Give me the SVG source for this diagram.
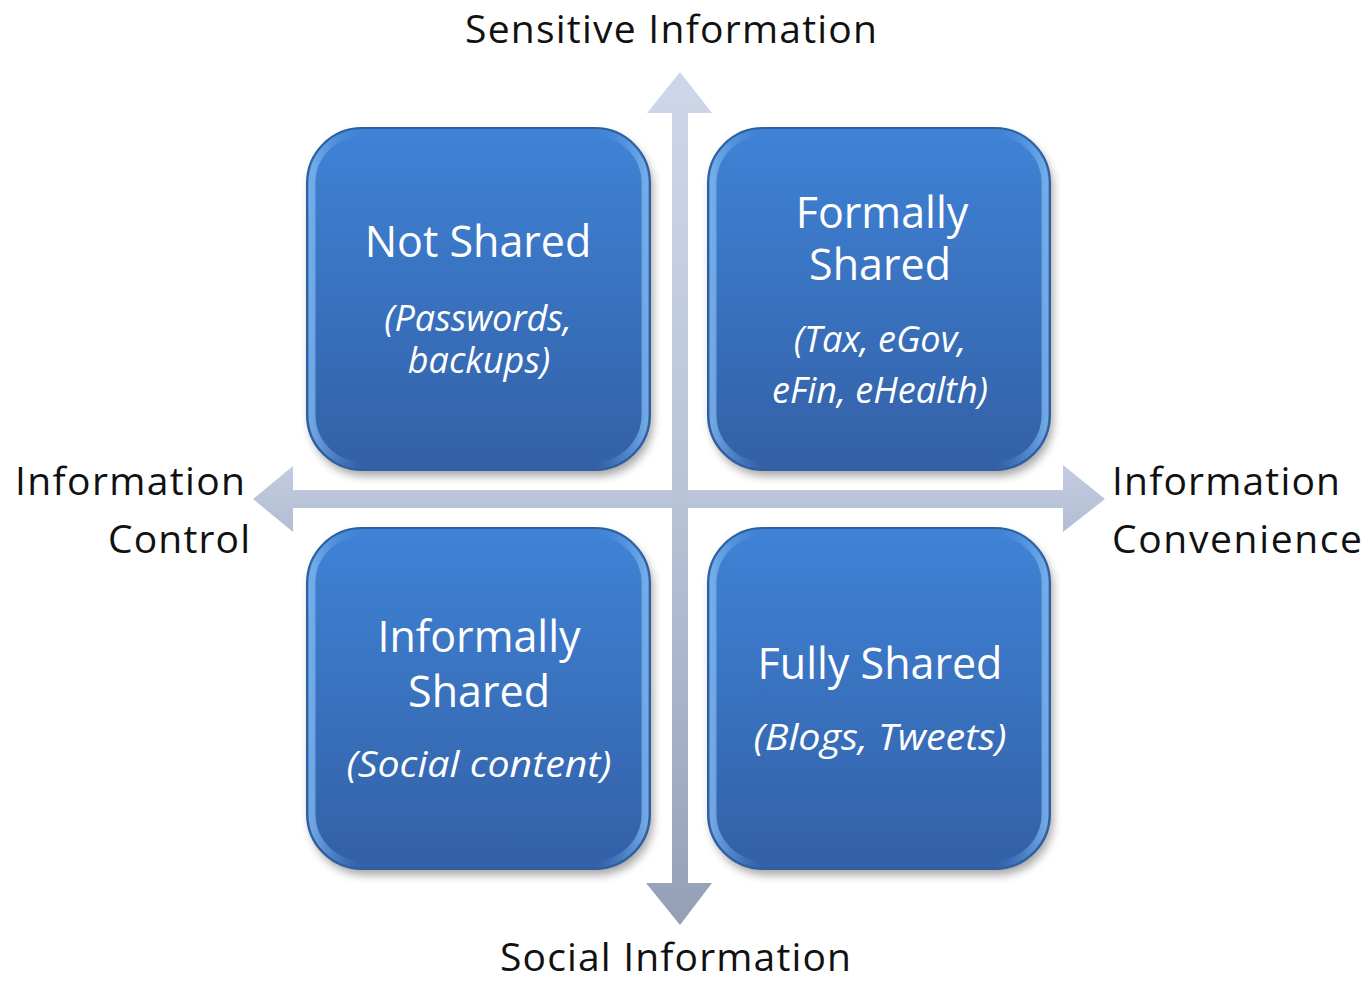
<svg xmlns="http://www.w3.org/2000/svg" width="1370" height="982" viewBox="0 0 1370 982">
<style>
.lbl{font-family:"Open Sans","Liberation Sans",sans-serif;font-size:39px;fill:#111}
.t{font-family:"Open Sans","Liberation Sans",sans-serif;font-size:43px;fill:#fff;text-anchor:middle}
.s{font-family:"Open Sans","Liberation Sans",sans-serif;font-size:36px;font-style:italic;fill:#fff;text-anchor:middle}
.box{fill:url(#boxg);stroke:#2f5f9f;stroke-width:2}
.bev{fill:none;stroke:url(#bevg);stroke-width:7;opacity:0.8}
.sh{fill:#000;opacity:0.35;filter:url(#blur)}
</style>
<defs>
<linearGradient id="boxg" x1="0" y1="0" x2="0" y2="1">
<stop offset="0" stop-color="#3f83d6"/>
<stop offset="1" stop-color="#3360a6"/>
</linearGradient>
<linearGradient id="bevg" x1="0" y1="0" x2="1" y2="0">
<stop offset="0" stop-color="#7fb8f0"/>
<stop offset="0.15" stop-color="#4a8ad8" stop-opacity="0"/>
<stop offset="0.85" stop-color="#4a8ad8" stop-opacity="0"/>
<stop offset="1" stop-color="#7fb8f0"/>
</linearGradient>
<linearGradient id="vg" x1="0" y1="0" x2="0" y2="1">
<stop offset="0" stop-color="#ced7ea"/>
<stop offset="0.5" stop-color="#b9c3d8"/>
<stop offset="1" stop-color="#959fb6"/>
</linearGradient>
<linearGradient id="hg" x1="0" y1="0" x2="0" y2="1">
<stop offset="0" stop-color="#c3cce0"/>
<stop offset="1" stop-color="#b3bdd3"/>
</linearGradient>
<filter id="blur" x="-10%" y="-10%" width="120%" height="120%">
<feGaussianBlur stdDeviation="5"/>
</filter>
</defs>

<g id="connectors">
<polygon fill="url(#hg)" points="253,499 293,466 293,490 1063,490 1063,465 1105,499 1063,532 1063,508 293,508 293,532"/>
<polygon fill="url(#vg)" points="680,72 712,113 688,113 688,883 712,883 680,925 646,883 672,883 672,113 647,113"/>
</g>

<g id="node-not-shared">
<rect class="sh" x="310" y="134" width="343" height="342" rx="55"/>
<rect class="box" x="307" y="128" width="343" height="342" rx="55"/>
<rect class="bev" x="312" y="133" width="333" height="332" rx="50"/>
<text class="t" x="478" y="257">Not Shared</text>
<text class="s"><tspan x="478" y="331">(Passwords,</tspan><tspan x="479" y="373">backups)</tspan></text>
</g>

<g id="node-formally-shared">
<rect class="sh" x="711" y="134" width="342" height="342" rx="55"/>
<rect class="box" x="708" y="128" width="342" height="342" rx="55"/>
<rect class="bev" x="713" y="133" width="332" height="332" rx="50"/>
<text class="t"><tspan x="882" y="228">Formally</tspan><tspan x="880" y="280">Shared</tspan></text>
<text class="s"><tspan x="880" y="352">(Tax, eGov,</tspan><tspan x="880" y="403">eFin, eHealth)</tspan></text>
</g>

<g id="node-informally-shared">
<rect class="sh" x="310" y="534" width="343" height="341" rx="55"/>
<rect class="box" x="307" y="528" width="343" height="341" rx="55"/>
<rect class="bev" x="312" y="533" width="333" height="331" rx="50"/>
<text class="t"><tspan x="479" y="652">Informally</tspan><tspan x="479" y="707">Shared</tspan></text>
<text class="s" x="479" y="777" textLength="265" lengthAdjust="spacingAndGlyphs">(Social content)</text>
</g>

<g id="node-fully-shared">
<rect class="sh" x="711" y="534" width="342" height="341" rx="55"/>
<rect class="box" x="708" y="528" width="342" height="341" rx="55"/>
<rect class="bev" x="713" y="533" width="332" height="331" rx="50"/>
<text class="t" x="880" y="679">Fully Shared</text>
<text class="s" x="880" y="750" textLength="253" lengthAdjust="spacingAndGlyphs">(Blogs, Tweets)</text>
</g>

<g id="labels">
<text class="lbl" x="465" y="43" textLength="412">Sensitive Information</text>
<text class="lbl" x="500" y="971" textLength="351">Social Information</text>
<text class="lbl" x="15" y="495" textLength="230">Information</text>
<text class="lbl" x="108" y="553" textLength="142">Control</text>
<text class="lbl" x="1112" y="495" textLength="228">Information</text>
<text class="lbl" x="1112" y="553" textLength="250">Convenience</text>
</g>
</svg>
